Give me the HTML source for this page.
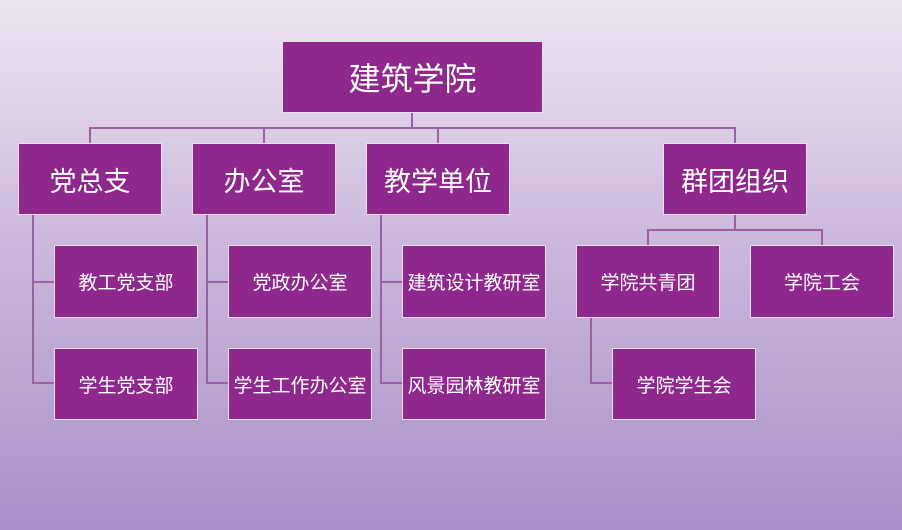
<!DOCTYPE html>
<html><head><meta charset="utf-8"><style>
html,body{margin:0;padding:0}
body{width:902px;height:530px;position:relative;overflow:hidden;background:linear-gradient(#ede5f1,#cbb9dc 45%,#a890c9);font-family:"Liberation Sans","Noto Sans CJK SC",sans-serif}
.b{position:absolute;background:#8e288d;border:1px solid #f0dcf0;box-sizing:border-box;color:#fff;display:flex;align-items:center;justify-content:center;font-size:19px}
.l2{font-size:27px}
.l1{font-size:32px}
svg{position:absolute;left:0;top:0}
</style></head><body>
<svg width="902" height="530"><g stroke="#9b5fa2" stroke-width="2" fill="none">
<path d="M412 113V128M90 143V128H735V143M264 128V143M438 128V143"/>
<path d="M33 215V383H54M33 282H54"/>
<path d="M207 215V383H228M207 282H228"/>
<path d="M381 215V383H402M381 282H402"/>
<path d="M735 215V230M648 245V230H822V245"/>
<path d="M591 318V383H612"/>
</g></svg>
<div class="b l1" style="left:282px;top:41px;width:261px;height:72px">建筑学院</div>
<div class="b l2" style="left:18px;top:143px;width:144px;height:72px">党总支</div>
<div class="b l2" style="left:192px;top:143px;width:144px;height:72px">办公室</div>
<div class="b l2" style="left:366px;top:143px;width:144px;height:72px">教学单位</div>
<div class="b l2" style="left:663px;top:143px;width:144px;height:72px">群团组织</div>
<div class="b" style="left:54px;top:245px;width:144px;height:73px">教工党支部</div>
<div class="b" style="left:54px;top:348px;width:144px;height:72px">学生党支部</div>
<div class="b" style="left:228px;top:245px;width:144px;height:73px">党政办公室</div>
<div class="b" style="left:228px;top:348px;width:144px;height:72px">学生工作办公室</div>
<div class="b" style="left:402px;top:245px;width:144px;height:73px">建筑设计教研室</div>
<div class="b" style="left:402px;top:348px;width:144px;height:72px">风景园林教研室</div>
<div class="b" style="left:576px;top:245px;width:144px;height:73px">学院共青团</div>
<div class="b" style="left:750px;top:245px;width:144px;height:73px">学院工会</div>
<div class="b" style="left:612px;top:348px;width:144px;height:72px">学院学生会</div>
</body></html>
